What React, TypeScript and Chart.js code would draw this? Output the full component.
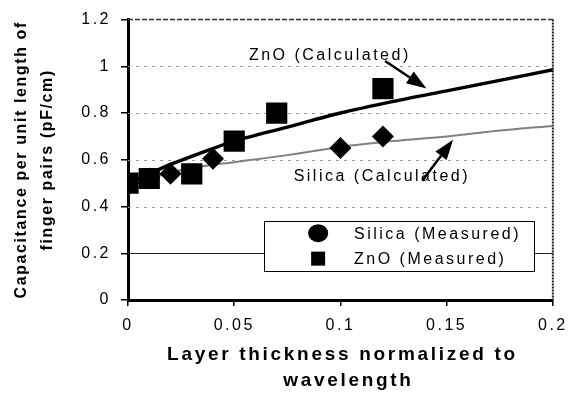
import React, { useEffect, useRef } from 'react';
import { Chart, registerables } from 'chart.js';

Chart.register(...registerables);

const xTicks = [0, 0.05, 0.1, 0.15, 0.2];
const xTickLabels = ['0', '0.05', '0.1', '0.15', '0.2'];
const yTicks = [0, 0.2, 0.4, 0.6, 0.8, 1, 1.2];
const yTickLabels = ['0', '0.2', '0.4', '0.6', '0.8', '1', '1.2'];

const znoMeasuredX = [0, 0.01, 0.03, 0.05, 0.07, 0.12];
const znoMeasuredY = [0.5, 0.52, 0.54, 0.68, 0.8, 0.905];
const silicaMeasuredX = [0, 0.01, 0.02, 0.04, 0.1, 0.12];
const silicaMeasuredY = [0.5, 0.52, 0.54, 0.605, 0.65, 0.7];

const calcX = [0, 0.01, 0.02, 0.03, 0.05, 0.075, 0.1, 0.125, 0.15, 0.175, 0.2];
const znoCalcY = [0.5, 0.54, 0.58, 0.615, 0.68, 0.74, 0.8, 0.85, 0.895, 0.94, 0.985];
const silicaCalcY = [0.5, 0.52, 0.545, 0.565, 0.59, 0.62, 0.655, 0.68, 0.7, 0.725, 0.745];

const xTitleLines = ['Layer thickness normalized to', 'wavelength'];
const yTitleLines = ['Capacitance per unit length of', 'finger pairs (pF/cm)'];
const legendLabels = ['Silica (Measured)', 'ZnO (Measured)'];
const znoCalcLabel = 'ZnO (Calculated)';
const silicaCalcLabel = 'Silica (Calculated)';

const FONT = '"Liberation Sans", Arial, Helvetica, sans-serif';

const pts = (xs: number[], ys: number[]) => xs.map((x, i) => ({ x, y: ys[i] }));

function arrow(ctx: CanvasRenderingContext2D, x1: number, y1: number, x2: number, y2: number) {
  const ang = Math.atan2(y2 - y1, x2 - x1);
  const len = 20;
  const hw = 7;
  const bx = x2 - Math.cos(ang) * len;
  const by = y2 - Math.sin(ang) * len;
  ctx.beginPath();
  ctx.moveTo(x1, y1);
  ctx.lineTo(bx, by);
  ctx.strokeStyle = '#000';
  ctx.lineWidth = 2.5;
  ctx.setLineDash([]);
  ctx.stroke();
  ctx.beginPath();
  ctx.moveTo(x2, y2);
  ctx.lineTo(bx + Math.sin(ang) * hw, by - Math.cos(ang) * hw);
  ctx.lineTo(bx - Math.sin(ang) * hw, by + Math.cos(ang) * hw);
  ctx.closePath();
  ctx.fillStyle = '#000';
  ctx.fill();
}

const decor = {
  id: 'decor',
  beforeDraw(chart: any) {
    chart.ctx.letterSpacing = '2.5px';
  },
  beforeDatasetsDraw(chart: any) {
    const { ctx, chartArea: a, scales } = chart;
    const y = scales.y;
    ctx.save();
    yTicks.forEach((v) => {
      if (v === 0 || v === 1.2) return;
      const py = Math.round(y.getPixelForValue(v)) + 0.5;
      ctx.beginPath();
      if (v === 0.2) {
        ctx.setLineDash([]);
        ctx.strokeStyle = '#222';
      } else {
        ctx.setLineDash([3, 5]);
        ctx.strokeStyle = '#9a9a9a';
      }
      ctx.lineWidth = 1;
      ctx.moveTo(a.left, py);
      ctx.lineTo(a.right, py);
      ctx.stroke();
    });
    ctx.beginPath();
    ctx.setLineDash([5, 2]);
    ctx.strokeStyle = '#333';
    ctx.lineWidth = 1.5;
    ctx.moveTo(a.left, a.top);
    ctx.lineTo(a.right, a.top);
    ctx.stroke();
    ctx.beginPath();
    ctx.setLineDash([2, 1]);
    ctx.strokeStyle = '#222';
    ctx.lineWidth = 2;
    ctx.moveTo(a.right, a.top);
    ctx.lineTo(a.right, a.bottom);
    ctx.stroke();
    ctx.restore();
  },
  afterDatasetsDraw(chart: any) {
    const { ctx, scales } = chart;
    const x = scales.x;
    const y = scales.y;
    ctx.save();
    ctx.letterSpacing = '2.5px';
    const l = x.getPixelForValue(0.064);
    const r = x.getPixelForValue(0.191);
    const t = y.getPixelForValue(0.34);
    const b = y.getPixelForValue(0.126);
    ctx.setLineDash([]);
    ctx.fillStyle = '#fff';
    ctx.fillRect(l, t, r - l, b - t);
    ctx.strokeStyle = '#000';
    ctx.lineWidth = 1;
    ctx.strokeRect(Math.round(l) + 0.5, Math.round(t) + 0.5, Math.round(r - l), Math.round(b - t));
    const mx = x.getPixelForValue(0.0895);
    const my1 = y.getPixelForValue(0.286);
    const my2 = y.getPixelForValue(0.177);
    ctx.fillStyle = '#000';
    ctx.beginPath();
    ctx.ellipse(mx, my1, 10, 9, 0, 0, Math.PI * 2);
    ctx.fill();
    ctx.fillRect(mx - 7, my2 - 7, 14, 14);
    ctx.font = `16px ${FONT}`;
    ctx.textAlign = 'left';
    ctx.textBaseline = 'middle';
    const tx = x.getPixelForValue(0.1064);
    ctx.fillText(legendLabels[0], tx, my1 + 1);
    ctx.fillText(legendLabels[1], tx, my2 + 1);
    ctx.textAlign = 'center';
    ctx.fillText(znoCalcLabel, x.getPixelForValue(0.095), y.getPixelForValue(1.044));
    ctx.fillText(silicaCalcLabel, x.getPixelForValue(0.1195), y.getPixelForValue(0.526));
    arrow(ctx, x.getPixelForValue(0.121), y.getPixelForValue(1.023), x.getPixelForValue(0.1405), y.getPixelForValue(0.905));
    arrow(ctx, x.getPixelForValue(0.1385), y.getPixelForValue(0.51), x.getPixelForValue(0.153), y.getPixelForValue(0.686));
    ctx.restore();
  },
  afterDraw(chart: any) {
    const { ctx, chartArea: a } = chart;
    ctx.save();
    ctx.fillStyle = '#000';
    ctx.textAlign = 'center';
    ctx.textBaseline = 'middle';
    ctx.font = `bold 19px ${FONT}`;
    ctx.letterSpacing = '2.7px';
    const cx = (a.left + a.right) / 2 + 2;
    ctx.fillText(xTitleLines[0], cx, a.bottom + 55);
    ctx.fillText(xTitleLines[1], cx + 6, a.bottom + 81);
    ctx.font = `bold 16px ${FONT}`;
    ctx.letterSpacing = '1.6px';
    const cy = (a.top + a.bottom) / 2;
    ctx.translate(0, cy);
    ctx.rotate(-Math.PI / 2);
    ctx.fillText(yTitleLines[0], 0, 22);
    ctx.fillText(yTitleLines[1], 0, 48);
    ctx.restore();
  },
};

export default function App() {
  const ref = useRef<HTMLCanvasElement | null>(null);
  useEffect(() => {
    if (!ref.current) return;
    const chart = new Chart(ref.current, {
      type: 'scatter',
      data: {
        datasets: [
          {
            label: 'ZnO (Measured)',
            data: pts(znoMeasuredX, znoMeasuredY),
            pointStyle: 'rect',
            pointRadius: 15,
            backgroundColor: '#000',
            borderColor: '#000',
            borderWidth: 0,
            showLine: false,
            order: 0,
          },
          {
            label: 'Silica (Measured)',
            data: pts(silicaMeasuredX, silicaMeasuredY),
            pointStyle: 'rectRot',
            pointRadius: 11,
            backgroundColor: '#000',
            borderColor: '#000',
            borderWidth: 0,
            showLine: false,
            order: 1,
          },
          {
            label: 'ZnO (Calculated)',
            data: pts(calcX, znoCalcY),
            showLine: true,
            borderColor: '#000',
            borderWidth: 3.5,
            pointRadius: 0,
            tension: 0.3,
            order: 2,
          },
          {
            label: 'Silica (Calculated)',
            data: pts(calcX, silicaCalcY),
            showLine: true,
            borderColor: '#808080',
            borderWidth: 2,
            pointRadius: 0,
            tension: 0.3,
            order: 3,
          },
        ],
      },
      options: {
        responsive: false,
        animation: false,
        devicePixelRatio: 1,
        layout: { padding: { left: 0, top: 15, right: 21, bottom: 0 } },
        plugins: { legend: { display: false }, tooltip: { enabled: false } },
        scales: {
          x: {
            type: 'linear',
            min: 0,
            max: 0.2,
            afterBuildTicks: (s: any) => {
              s.ticks = xTicks.map((v) => ({ value: v }));
            },
            afterFit: (s: any) => {
              s.height = 93;
            },
            ticks: {
              autoSkip: false,
              maxRotation: 0,
              padding: 10,
              color: '#000',
              font: { family: FONT, size: 16 },
              callback: (v: any) => {
                const i = xTicks.indexOf(Number(v));
                return i >= 0 ? xTickLabels[i] : '';
              },
            },
            grid: { drawOnChartArea: false, tickLength: 6, color: '#000', lineWidth: 1.5 },
            border: { color: '#000', width: 3 },
          },
          y: {
            type: 'linear',
            min: 0,
            max: 1.2,
            afterBuildTicks: (s: any) => {
              s.ticks = yTicks.map((v) => ({ value: v }));
            },
            afterFit: (s: any) => {
              s.width = 128;
            },
            ticks: {
              autoSkip: false,
              padding: 10,
              color: '#000',
              font: { family: FONT, size: 16 },
              callback: (v: any) => {
                const i = yTicks.indexOf(Number(v));
                return i >= 0 ? yTickLabels[i] : '';
              },
            },
            grid: { drawOnChartArea: false, tickLength: 7, color: '#000', lineWidth: 1.5 },
            border: { color: '#000', width: 3 },
          },
        },
      },
      plugins: [decor],
    } as any);
    return () => chart.destroy();
  }, []);
  return (
    <div style={{ position: 'absolute', left: 0, top: 0, width: 574, height: 393, background: '#fff' }}>
      <canvas ref={ref} width={574} height={393} />
    </div>
  );
}
